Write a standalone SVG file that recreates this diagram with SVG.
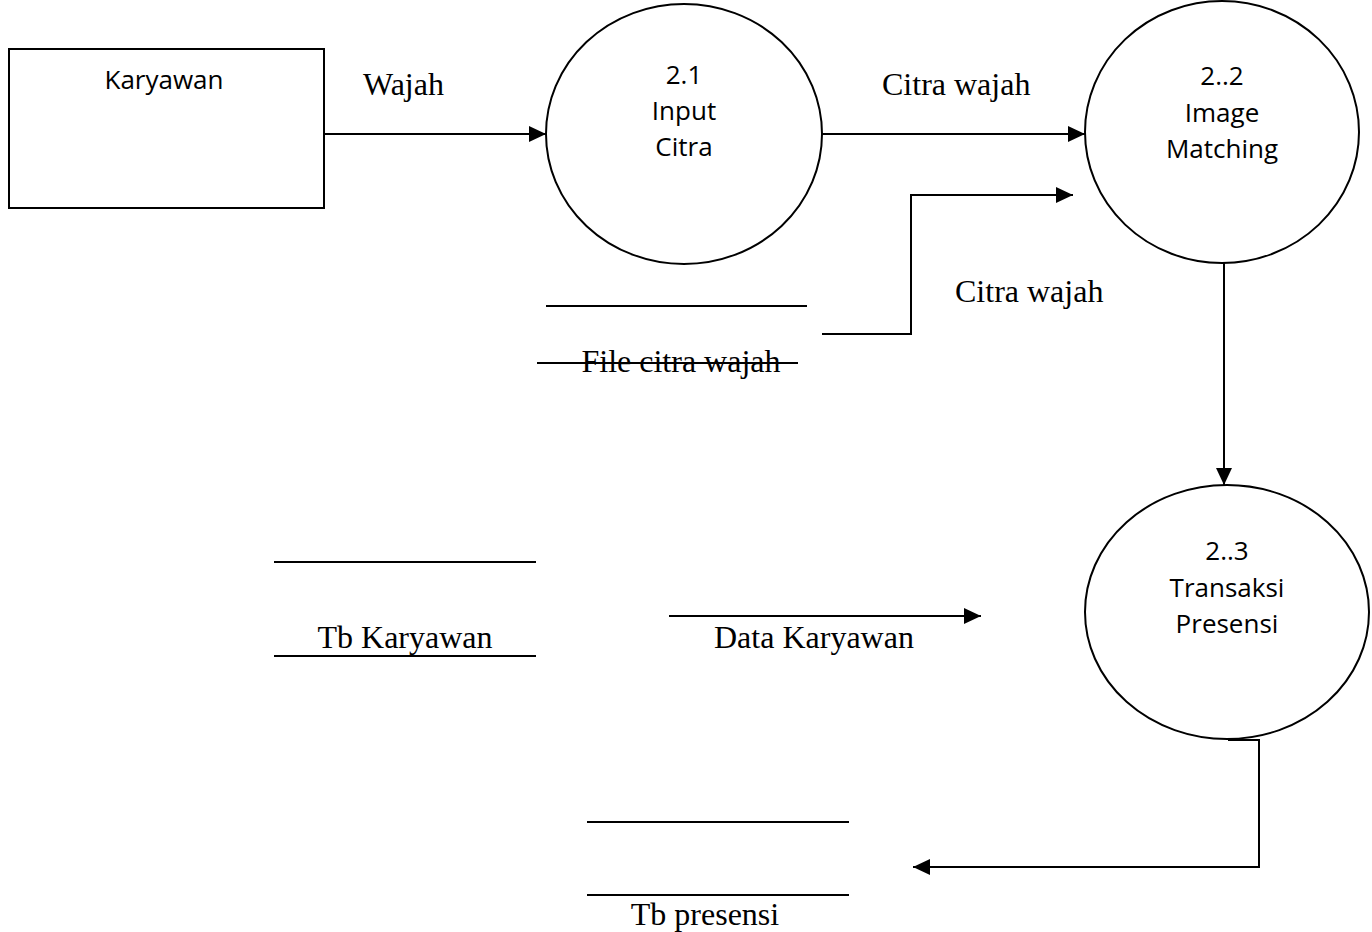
<svg xmlns="http://www.w3.org/2000/svg" width="1372" height="932" viewBox="0 0 1372 932">
<style>
.shape{fill:#fff;stroke:#000;stroke-width:2}
.ln{fill:none;stroke:#000;stroke-width:2}
.sans{font-family:"Open Sans","Liberation Sans",sans-serif;font-size:26px;fill:#000;text-anchor:middle}
.serif{font-family:"Liberation Serif","Times New Roman",serif;font-size:32px;fill:#000}
</style>
<defs>
<marker id="arr" markerUnits="userSpaceOnUse" markerWidth="17" markerHeight="16" refX="17" refY="8" orient="auto">
<path d="M0,0 L17,8 L0,16 Z" fill="#000"/>
</marker>
</defs>
<rect width="1372" height="932" fill="#fff"/>

<g id="karyawan">
<rect class="shape" x="9" y="49" width="315" height="159"/>
<text class="sans" x="164" y="89">Karyawan</text>
</g>

<g id="p21">
<ellipse class="shape" cx="684" cy="134" rx="138" ry="130"/>
<text class="sans" x="684" y="84">2.1</text>
<text class="sans" x="684" y="120">Input</text>
<text class="sans" x="684" y="156">Citra</text>
</g>

<g id="p22">
<ellipse class="shape" cx="1222" cy="132" rx="137" ry="131"/>
<text class="sans" x="1222" y="85">2..2</text>
<text class="sans" x="1222" y="122">Image</text>
<text class="sans" x="1222" y="158">Matching</text>
</g>

<g id="p23">
<ellipse class="shape" cx="1227" cy="612" rx="142" ry="127"/>
<text class="sans" x="1227" y="560">2..3</text>
<text class="sans" x="1227" y="597">Transaksi</text>
<text class="sans" x="1227" y="633">Presensi</text>
</g>

<g id="store-file">
<line class="ln" x1="546" y1="306" x2="807" y2="306"/>
<text class="serif" x="681" y="372" text-anchor="middle">File citra wajah</text>
<line class="ln" x1="537" y1="363" x2="798" y2="363"/>
</g>

<g id="store-karyawan">
<line class="ln" x1="274" y1="562" x2="536" y2="562"/>
<line class="ln" x1="274" y1="656" x2="536" y2="656"/>
<text class="serif" x="405" y="648" text-anchor="middle">Tb Karyawan</text>
</g>

<g id="store-presensi">
<line class="ln" x1="587" y1="822" x2="849" y2="822"/>
<line class="ln" x1="587" y1="895" x2="849" y2="895"/>
<text class="serif" x="705" y="925" text-anchor="middle">Tb presensi</text>
</g>

<g id="connectors">
<line class="ln" x1="324" y1="134" x2="546" y2="134" marker-end="url(#arr)"/>
<text class="serif" x="363" y="95">Wajah</text>
<line class="ln" x1="822" y1="134" x2="1085" y2="134" marker-end="url(#arr)"/>
<text class="serif" x="882" y="95">Citra wajah</text>
<polyline class="ln" points="822,334 911,334 911,195 1073,195" marker-end="url(#arr)"/>
<text class="serif" x="955" y="302">Citra wajah</text>
<line class="ln" x1="1224" y1="263" x2="1224" y2="485" marker-end="url(#arr)"/>
<line class="ln" x1="669" y1="616" x2="981" y2="616" marker-end="url(#arr)"/>
<text class="serif" x="714" y="648">Data Karyawan</text>
<polyline class="ln" points="1228,740 1259,740 1259,867 913,867" marker-end="url(#arr)"/>
</g>
</svg>
